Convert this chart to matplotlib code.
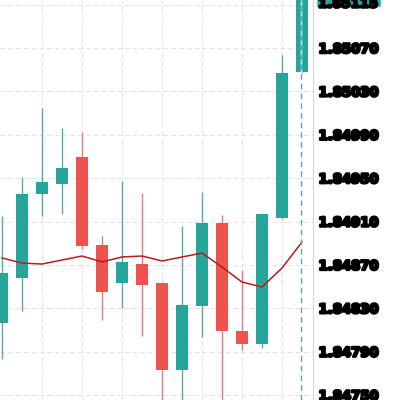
import matplotlib.pyplot as plt
import matplotlib.patheffects as pe
from matplotlib.patches import Rectangle

# candle data
opens = [1.848164, 1.848579, 1.849354, 1.849446, 1.849695, 1.848883, 1.848533, 1.848708,
         1.848533, 1.847731, 1.848321, 1.849086, 1.848090, 1.847970, 1.849132, 1.850479]
highs = [1.849151, 1.849510, 1.850147, 1.849962, 1.849925, 1.848966, 1.849473, 1.849363,
         1.848540, 1.849059, 1.849372, 1.849160, 1.848653, 1.849180, 1.850635, 1.851250]
lows = [1.847832, 1.848275, 1.849151, 1.849169, 1.848846, 1.848192, 1.848302, 1.848044,
        1.847362, 1.847362, 1.848035, 1.847362, 1.847915, 1.847933, 1.849120, 1.850470]
closes = [1.848625, 1.849354, 1.849464, 1.849593, 1.848874, 1.848450, 1.848727, 1.848514,
          1.847731, 1.848330, 1.849086, 1.848090, 1.847970, 1.849169, 1.850469, 1.851150]
ma = [1.848764, 1.848717, 1.848708, 1.848745, 1.848782, 1.848727, 1.848773, 1.848782,
      1.848736, 1.848773, 1.848809, 1.848680, 1.848542, 1.848496, 1.848671, 1.848911]
tick_values = [1.84750, 1.84790, 1.84830, 1.84870, 1.84910, 1.84950, 1.84990, 1.85030, 1.85070, 1.85110]
tick_labels = ['1.84750', '1.84790', '1.84830', '1.84870', '1.84910', '1.84950', '1.84990', '1.85030', '1.85070', '']
last_price = 1.85115

up_color = '#26a69a'
down_color = '#ef5350'
up_wick = '#6aa39e'
down_wick = '#c98884'

fig = plt.figure(figsize=(4, 4), dpi=100)
ax = fig.add_axes([0, 0, 313 / 400, 1])

for i in range(len(opens)):
    o, h, l, c = opens[i], highs[i], lows[i], closes[i]
    up = c >= o
    ax.vlines(i, l, h, color=up_wick if up else down_wick, linewidth=1, zorder=2)
    ax.bar(i, abs(c - o), bottom=min(o, c), width=0.6,
           color=up_color if up else down_color, zorder=3)

ax.plot(range(len(ma)), ma, color='#b71c1c', linewidth=1.1, zorder=4)

# crosshair on the last candle
ax.axvline(14.95, color='white', linewidth=1, zorder=5)
ax.axvline(14.95, color='#3bb3b9', linewidth=1, linestyle=(0, (4, 3)), zorder=6)

ax.set_xlim(-0.1, 15.55)
ax.set_ylim(1.847454, 1.851143)
ax.set_xticks(range(2, 15, 2))
ax.set_yticks(tick_values)
ax.set_yticklabels(tick_labels)
ax.yaxis.tick_right()
ax.tick_params(axis='x', length=0, labelbottom=False)
ax.tick_params(axis='y', length=0, pad=4)
for lab in ax.get_yticklabels():
    lab.set_fontsize(9.5)
    lab.set_fontweight('bold')
    lab.set_path_effects([pe.withStroke(linewidth=1.8, foreground='black')])

ax.grid(True, color='#e3e3e3', linestyle=(0, (4, 3)), linewidth=0.8, zorder=0)
for s in ['top', 'left', 'bottom']:
    ax.spines[s].set_visible(False)
ax.spines['right'].set_color('#d8d8d8')

# current price label
fig.patches.append(Rectangle((317 / 400, 394.5 / 400), 63 / 400, 10 / 400, transform=fig.transFigure,
                             facecolor=up_color, edgecolor='#5bc0eb', linewidth=1, zorder=5))
fig.text(318 / 400, 396 / 400, '1.85115', fontsize=9.5, fontweight='bold', va='center', ha='left',
         path_effects=[pe.withStroke(linewidth=1.8, foreground='black')], zorder=6)

fig.savefig('out.png', dpi=100)
